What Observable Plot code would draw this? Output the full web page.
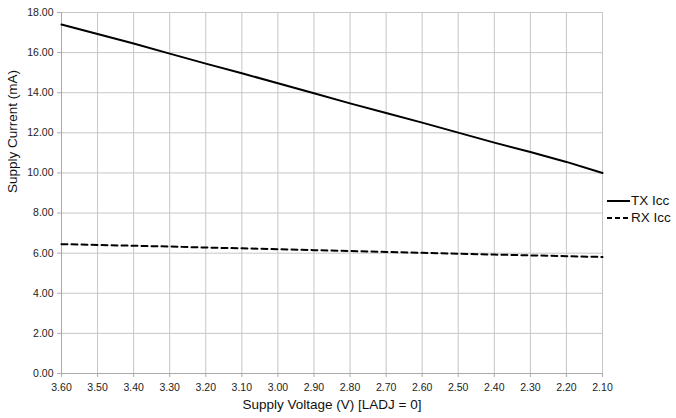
<!DOCTYPE html>
<html>
<head>
<meta charset="utf-8">
<script src="https://cdn.jsdelivr.net/npm/d3@7"></script>
<script src="https://cdn.jsdelivr.net/npm/@observablehq/plot@0.6"></script>
<style>
  body { margin: 0; background: #fff; font-family: "Liberation Sans", Arial, Helvetica, sans-serif; }
  #wrap { position: relative; width: 676px; height: 418px; }
  .legend { position: absolute; left: 607px; top: 0; font-size: 13.5px; color: #111; line-height: 1; }
  .legend .row { position: absolute; left: 0; display: flex; align-items: center; white-space: nowrap; }
  .legend svg { display: block; margin-right: 1px; }
</style>
</head>
<body>
<div id="wrap"></div>
<script>
const voltages = [3.60, 3.50, 3.40, 3.30, 3.20, 3.10, 3.00, 2.90, 2.80, 2.70, 2.60, 2.50, 2.40, 2.30, 2.20, 2.10];
const txIcc = [17.40, 16.93, 16.45, 15.95, 15.45, 14.97, 14.47, 13.97, 13.47, 12.99, 12.51, 12.01, 11.51, 11.04, 10.55, 10.00];
const rxIcc = [6.45, 6.41, 6.37, 6.33, 6.28, 6.24, 6.20, 6.15, 6.11, 6.06, 6.02, 5.97, 5.93, 5.89, 5.85, 5.81];
const seriesNames = ["TX Icc", "RX Icc"];
const xTicks = [3.6, 3.5, 3.4, 3.3, 3.2, 3.1, 3.0, 2.9, 2.8, 2.7, 2.6, 2.5, 2.4, 2.3, 2.2, 2.1];
const yTicks = [0, 2, 4, 6, 8, 10, 12, 14, 16, 18];
const xTitle = "Supply Voltage (V) [LADJ = 0]";
const yTitle = "Supply Current (mA)";

const txData = voltages.map((v, i) => ({v, c: txIcc[i]}));
const rxData = voltages.map((v, i) => ({v, c: rxIcc[i]}));

const gridColor = "#c6c6c6";
const axisColor = "#ababab";
const fmt2 = d => d.toFixed(2);

const chart = Plot.plot({
  width: 676,
  height: 418,
  marginLeft: 61,
  marginRight: 74,
  marginTop: 12,
  marginBottom: 45,
  style: {fontFamily: '"Liberation Sans", Arial, Helvetica, sans-serif', color: "#222", background: "#fff"},
  x: {domain: [3.6, 2.1], label: null},
  y: {domain: [0, 18], label: null},
  marks: [
    Plot.gridX(xTicks, {stroke: gridColor, strokeOpacity: 1, strokeWidth: 1}),
    Plot.gridY(yTicks, {stroke: gridColor, strokeOpacity: 1, strokeWidth: 1}),
    Plot.ruleX([3.6], {stroke: axisColor, strokeWidth: 1}),
    Plot.ruleY([0], {stroke: axisColor, strokeWidth: 1}),
    Plot.axisX(xTicks, {tickSize: 4, tickPadding: 6, tickFormat: fmt2, stroke: axisColor, fill: "#222", fontSize: 10.5, label: null}),
    Plot.axisY(yTicks, {tickSize: 4, tickPadding: 4, tickFormat: fmt2, stroke: axisColor, fill: "#222", fontSize: 10.5, label: null}),
    Plot.line(txData, {x: "v", y: "c", stroke: "#000", strokeWidth: 2}),
    Plot.line(rxData, {x: "v", y: "c", stroke: "#000", strokeWidth: 2, strokeDasharray: "6,4"}),
    Plot.text([xTitle], {frameAnchor: "bottom", dy: 35, fontSize: 13.5, fill: "#111"}),
    Plot.text([yTitle], {frameAnchor: "left", rotate: -90, dx: -49, fontSize: 13.5, fill: "#111"})
  ]
});

const wrap = document.getElementById("wrap");
wrap.appendChild(chart);

const legend = document.createElement("div");
legend.className = "legend";
const rowCenters = [200.7, 218];
const dashes = [null, "5,3"];
seriesNames.forEach((name, i) => {
  const row = document.createElement("div");
  row.className = "row";
  row.style.top = (rowCenters[i] - 8) + "px";
  row.style.height = "16px";
  row.innerHTML = `<svg width="23" height="4"><line x1="0" x2="23" y1="2" y2="2" stroke="#000" stroke-width="2" ${dashes[i] ? `stroke-dasharray="${dashes[i]}"` : ""}/></svg><span>${name}</span>`;
  legend.appendChild(row);
});
wrap.appendChild(legend);
</script>
</body>
</html>
